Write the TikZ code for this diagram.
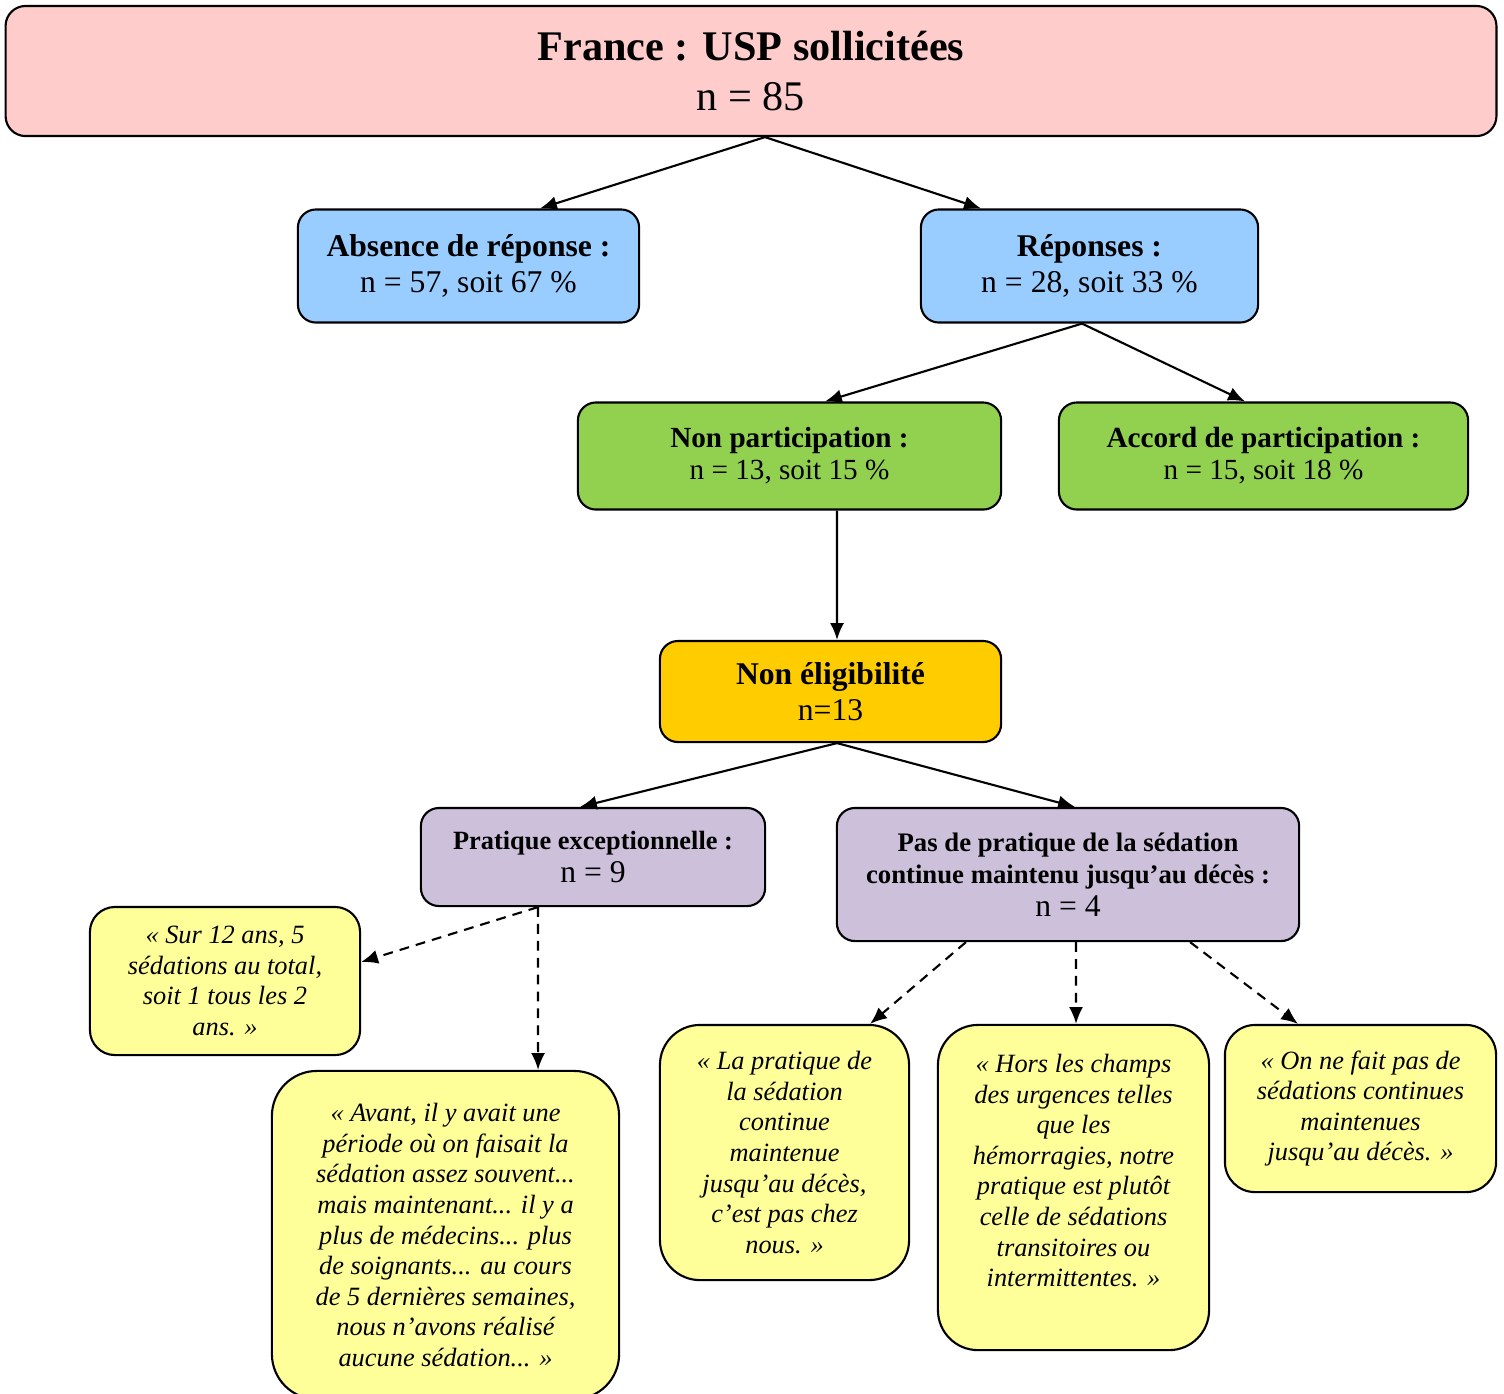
\documentclass[tikz,border=0pt]{standalone}
\usepackage{fontspec}
\setmainfont{Liberation Serif}
\usepackage{xcolor}
\usepackage{tikz}
\usetikzlibrary{arrows.meta}
\usetikzlibrary{positioning}

\definecolor{uspPink}{HTML}{FFCCCC}
\definecolor{repBlue}{HTML}{99CCFF}
\definecolor{partGreen}{HTML}{92D050}
\definecolor{eligOrange}{HTML}{FFCC00}
\definecolor{pratPurple}{HTML}{CCC0DA}
\definecolor{quoteYellow}{HTML}{FFFF99}

\tikzset{
  box/.style={draw, line width=0.6pt, align=center, inner sep=0pt, rounded corners=0.18cm},
  quotebox/.style={box, fill=quoteYellow, font=\itshape\fontsize{7.5}{8.7}\selectfont},
  arr/.style={line width=0.6pt, -{Latex[length=4.8pt,width=4pt]}},
  darr/.style={arr, dash pattern=on 2.8pt off 2pt}
}

\begin{document}
\begin{tikzpicture}[x=0.01cm, y=-0.01cm]
        \useasboundingbox (0,0) rectangle (1504,1393);
        % Flow chart boxes
        \node[box, fill=uspPink, rounded corners=0.2cm, minimum width=14.9cm, minimum height=1.3cm,
              font=\fontsize{12}{14}\selectfont] (usp) at (751,71)
              {\textbf{France : USP sollicitées}\\n = 85};
        \node[box, fill=repBlue, minimum width=3.41cm, minimum height=1.13cm,
              font=\fontsize{9}{10}\selectfont] (absence) at (468.5,266)
              {\textbf{Absence de réponse :}\\n = 57, soit 67 \%};
        \node[box, fill=repBlue, minimum width=3.37cm, minimum height=1.13cm,
              font=\fontsize{9}{10}\selectfont] (reponses) at (1089.5,266)
              {\textbf{Réponses :}\\n = 28, soit 33 \%};
        \node[box, fill=partGreen, minimum width=4.23cm, minimum height=1.07cm,
              font=\fontsize{8.3}{9.1}\selectfont] (nonpart) at (789.5,456)
              {\textbf{Non participation :}\\n = 13, soit 15 \%};
        \node[box, fill=partGreen, minimum width=4.09cm, minimum height=1.07cm,
              font=\fontsize{8.3}{9.1}\selectfont] (accord) at (1263.5,456)
              {\textbf{Accord de participation :}\\n = 15, soit 18 \%};
        \node[box, fill=eligOrange, minimum width=3.41cm, minimum height=1.01cm,
              font=\fontsize{9}{10.2}\selectfont] (nonelig) at (830.5,691.5)
              {\textbf{Non éligibilité}\\n=13};
        \node[box, fill=pratPurple, minimum width=3.44cm, minimum height=0.98cm,
              font=\fontsize{9}{9.4}\selectfont] (pratexc) at (593,857)
              {{\fontsize{7.5}{9}\selectfont\bfseries Pratique exceptionnelle :}\\n = 9};
        \node[box, fill=pratPurple, minimum width=4.62cm, minimum height=1.33cm,
              font=\fontsize{9}{9.2}\selectfont] (pasprat) at (1068,874.5)
              {{\fontsize{7.6}{9}\selectfont\bfseries Pas de pratique de la sédation}\\
               {\fontsize{7.6}{9}\selectfont\bfseries continue maintenu jusqu’au décès :}\\n = 4};

        % Quotes
        \node[quotebox, rounded corners=0.25cm, minimum width=2.7cm, minimum height=1.48cm] (q1) at (225,981)
              {« Sur 12 ans, 5\\sédations au total,\\soit 1 tous les 2\\ans. »};
        \node[quotebox, rounded corners=0.45cm, minimum width=3.47cm, minimum height=3.28cm] (q2) at (445.5,1235)
              {« Avant, il y avait une\\période où on faisait la\\sédation assez souvent...\\mais maintenant... il y a\\plus de médecins... plus\\de soignants... au cours\\de 5 dernières semaines,\\nous n’avons réalisé\\aucune sédation... »};
        \node[quotebox, rounded corners=0.4cm, minimum width=2.49cm, minimum height=2.55cm] (q3) at (784.5,1152.5)
              {« La pratique de\\la sédation\\continue\\maintenue\\jusqu’au décès,\\c’est pas chez\\nous. »};
        \node[quotebox, rounded corners=0.4cm, minimum width=2.71cm, minimum height=3.25cm] (q4) at (1073.5,1187.5)
              {« Hors les champs\\des urgences telles\\que les\\hémorragies, notre\\pratique est plutôt\\celle de sédations\\transitoires ou\\intermittentes. »\\[1pt]\mbox{}};
        \node[quotebox, rounded corners=0.3cm, minimum width=2.71cm, minimum height=1.67cm] (q5) at (1360.5,1108.5)
              {« On ne fait pas de\\sédations continues\\maintenues\\jusqu’au décès. »};

        % Connectors
        \draw[arr] ([xshift=0.14cm]usp.south) -- ([xshift=0.715cm]absence.north);
        \draw[arr] ([xshift=0.14cm]usp.south) -- ([xshift=-1.085cm]reponses.north);
        \draw[arr] ([xshift=-0.075cm]reponses.south) -- ([xshift=0.355cm]nonpart.north);
        \draw[arr] ([xshift=-0.075cm]reponses.south) -- ([xshift=-0.185cm]accord.north);
        \draw[arr] ([xshift=0.475cm]nonpart.south) -- ([xshift=0.065cm]nonelig.north);
        \draw[arr] ([xshift=0.065cm]nonelig.south) -- ([xshift=-0.13cm]pratexc.north);
        \draw[arr] ([xshift=0.065cm]nonelig.south) -- ([xshift=0.07cm]pasprat.north);
        \draw[darr] ([xshift=-0.55cm]pratexc.south) -- ([yshift=0.19cm]q1.east);
        \draw[darr] ([xshift=-0.55cm]pratexc.south) -- ([xshift=0.925cm]q2.north);
        \draw[darr] ([xshift=-1.02cm]pasprat.south) -- ([xshift=0.855cm]q3.north);
        \draw[darr] ([xshift=0.08cm]pasprat.south) -- ([xshift=0.025cm]q4.north);
        \draw[darr] ([xshift=1.22cm]pasprat.south) -- ([xshift=-0.625cm]q5.north);
    \end{tikzpicture}
\end{document}
